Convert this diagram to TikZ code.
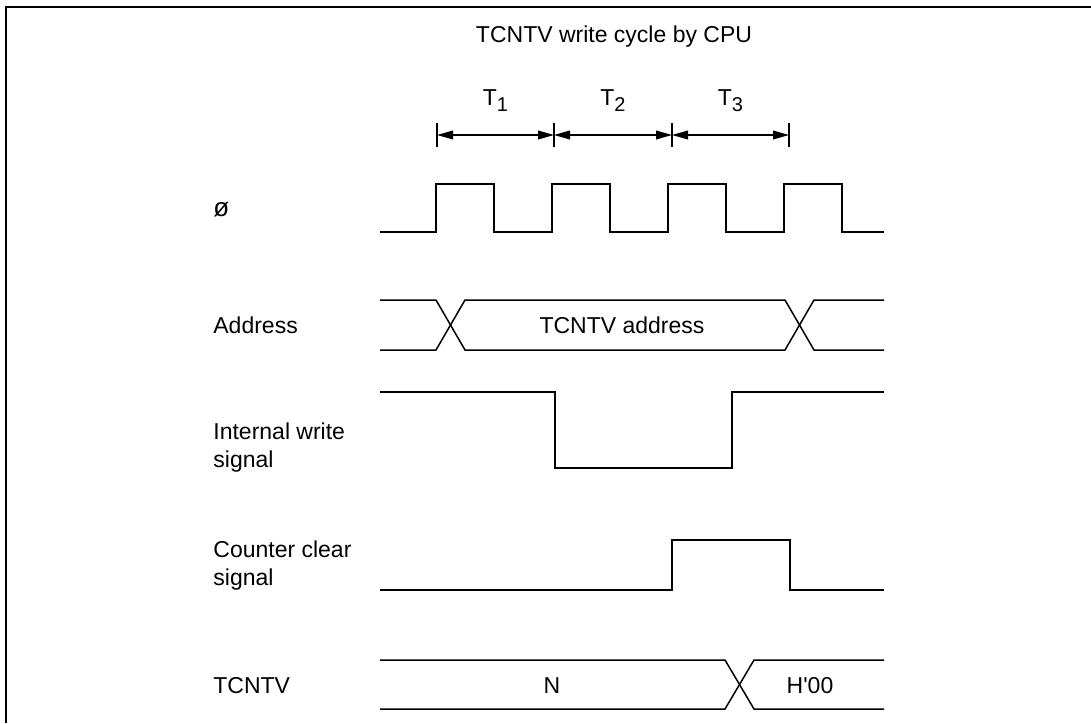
\documentclass[tikz,border=0pt]{standalone}
\usepackage{fontspec}
\setmainfont{Liberation Sans}
\usetikzlibrary{arrows.meta}

\newcommand\tsub[1]{T\raisebox{-3pt}{\fontsize{10}{10}\selectfont #1}}

\begin{document}
\begin{tikzpicture}[
  x=0.5pt,y=-0.5pt,
  font=\fontsize{11.5}{14}\selectfont,
  wave/.style={line width=.75pt,line join=miter},
  sig/.style={anchor=base west,inner sep=0pt},
  sig2/.style={anchor=west,align=left,inner sep=0pt},
  val/.style={anchor=base,inner sep=0pt},
  span/.style={line width=.6pt,{Triangle[length=8pt,width=4.4pt]}-{Triangle[length=8pt,width=4.4pt]}},
  tickline/.style={line width=.6pt}
]
  \useasboundingbox (0,0) rectangle (1091,723);
  \draw[line width=1pt] (6,723) -- (6,7) -- (1091,7);

  \node[val] (title) at (614,42) {TCNTV write cycle by CPU};

  \foreach \x/\n in {437/0,554/1,672/2,789/3}{
    \coordinate (t\n) at (\x,135);
    \draw[tickline] (\x,123) -- (\x,147);
  }
  \draw[span] (t0) -- node[val,yshift=15pt] (T1) {\tsub{1}} (t1);
  \draw[span] (t1) -- node[val,yshift=15pt] (T2) {\tsub{2}} (t2);
  \draw[span] (t2) -- node[val,yshift=15pt] (T3) {\tsub{3}} (t3);

  \node[sig,font=\fontsize{13}{14}\selectfont] (phi) at (213,216) {ø};
  \node[sig] (addr) at (213,333) {Address};
  \node[sig2] (wr) at (213,448) {Internal write\\signal};
  \node[sig2] (clr) at (213,566) {Counter clear\\signal};
  \node[sig] (cnt) at (213,693) {TCNTV};

  \draw[wave] (380,232) -| (436,184) -| (494,232) -| (552,184) -| (610,232)
    -| (668,184) -| (726,232) -| (784,184) -| (842,232) -- (884,232);

  \draw[wave] (380,300) -- (436,300) -- (465,350) -- (785,350) -- (814,300) -- (884,300);
  \draw[wave] (380,350) -- (436,350) -- (465,300) -- (785,300) -- (814,350) -- (884,350);
  \node[val] (addrval) at (622,333) {TCNTV address};

  \draw[wave] (380,392) -| (555,468) -| (732,392) -- (884,392);

  \draw[wave] (380,590) -| (672,540) -| (790,590) -- (884,590);

  \draw[wave] (380,660) -- (725,660) -- (754,709) -- (884,709);
  \draw[wave] (380,709) -- (725,709) -- (754,660) -- (884,660);
  \node[val] (nval) at (552,693) {N};
  \node[val] (hval) at (810,693) {H\textquotesingle 00};
\end{tikzpicture}
\end{document}
